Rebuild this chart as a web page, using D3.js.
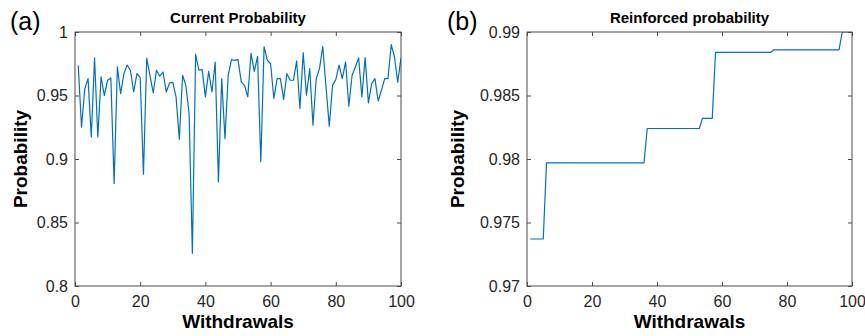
<!DOCTYPE html>
<html>
<head>
<meta charset="utf-8">
<script src="https://cdn.jsdelivr.net/npm/d3@7"></script>
<style>
  html, body { margin: 0; padding: 0; background: #fff; }
  svg { display: block; }
  text { font-family: "Liberation Sans", Arial, Helvetica, sans-serif; }
</style>
</head>
<body>
<svg id="fig" width="865" height="336"></svg>
<script>
// Withdrawal index 1..100
const withdrawals = d3.range(1, 101);

// Probability at each withdrawal
const currentProbability = [
  0.9737, 0.9250, 0.9554, 0.9633, 0.9174, 0.9797, 0.9174, 0.9646, 0.9500, 0.9620,
  0.9638, 0.8807, 0.9725, 0.9515, 0.9672, 0.9740, 0.9699, 0.9528, 0.9672, 0.9641,
  0.8881, 0.9795, 0.9659, 0.9520, 0.9699, 0.9652, 0.9685, 0.9528, 0.9599, 0.9604,
  0.9489, 0.9156, 0.9659, 0.9580, 0.9358, 0.8257, 0.9824, 0.9699, 0.9704, 0.9489,
  0.9690, 0.9528, 0.9764, 0.8820, 0.9633, 0.9161, 0.9659, 0.9782, 0.9777, 0.9782,
  0.9607, 0.9580, 0.9490, 0.9832, 0.9690, 0.9809, 0.8978, 0.9884, 0.9777, 0.9750,
  0.9476, 0.9633, 0.9633, 0.9470, 0.9672, 0.9620, 0.9620, 0.9772, 0.9397, 0.9837,
  0.9502, 0.9712, 0.9266, 0.9633, 0.9712, 0.9886, 0.9567, 0.9258, 0.9580, 0.9625,
  0.9740, 0.9633, 0.9764, 0.9415, 0.9659, 0.9725, 0.9796, 0.9489, 0.9798, 0.9442,
  0.9594, 0.9633, 0.9457, 0.9541, 0.9633, 0.9633, 0.9900, 0.9803, 0.9604, 0.9798
];

// Reinforced (best so far) probability at each withdrawal
const reinforcedProbability = [
  0.9737, 0.9737, 0.9737, 0.9737, 0.9737, 0.9797, 0.9797, 0.9797, 0.9797, 0.9797,
  0.9797, 0.9797, 0.9797, 0.9797, 0.9797, 0.9797, 0.9797, 0.9797, 0.9797, 0.9797,
  0.9797, 0.9797, 0.9797, 0.9797, 0.9797, 0.9797, 0.9797, 0.9797, 0.9797, 0.9797,
  0.9797, 0.9797, 0.9797, 0.9797, 0.9797, 0.9797, 0.9824, 0.9824, 0.9824, 0.9824,
  0.9824, 0.9824, 0.9824, 0.9824, 0.9824, 0.9824, 0.9824, 0.9824, 0.9824, 0.9824,
  0.9824, 0.9824, 0.9824, 0.9832, 0.9832, 0.9832, 0.9832, 0.9884, 0.9884, 0.9884,
  0.9884, 0.9884, 0.9884, 0.9884, 0.9884, 0.9884, 0.9884, 0.9884, 0.9884, 0.9884,
  0.9884, 0.9884, 0.9884, 0.9884, 0.9884, 0.9886, 0.9886, 0.9886, 0.9886, 0.9886,
  0.9886, 0.9886, 0.9886, 0.9886, 0.9886, 0.9886, 0.9886, 0.9886, 0.9886, 0.9886,
  0.9886, 0.9886, 0.9886, 0.9886, 0.9886, 0.9886, 0.9900, 0.9900, 0.9900, 0.9900
];

const xTicks = [0, 20, 40, 60, 80, 100];
const yTicksCurrent = [0.8, 0.85, 0.9, 0.95, 1];
const yTicksReinforced = [0.97, 0.975, 0.98, 0.985, 0.99];

const panels = [
  { tag: "(a)", title: "Current Probability", values: currentProbability,
    yDomain: [0.8, 1], yTicks: yTicksCurrent, left: 75, right: 401,
    tagX: 10, yLabelX: 27 },
  { tag: "(b)", title: "Reinforced probability", values: reinforcedProbability,
    yDomain: [0.97, 0.99], yTicks: yTicksReinforced, left: 527, right: 852,
    tagX: 447, yLabelX: 464 }
];

const plotTop = 32, plotBottom = 286;
const axisColor = "#4a4a4a";
const textColor = "#262626";
const lineColor = "#0072BD";
const tickLen = 4;

const svg = d3.select("#fig");
svg.append("rect").attr("width", 865).attr("height", 336).attr("fill", "#fff");

panels.forEach(p => {
  const x = d3.scaleLinear().domain([0, 100]).range([p.left, p.right]);
  const y = d3.scaleLinear().domain(p.yDomain).range([plotBottom, plotTop]);
  const g = svg.append("g");

  // clip the series to the axes box
  const clipId = "clip-" + p.tag.replace(/\W/g, "");
  svg.append("clipPath").attr("id", clipId)
    .append("rect").attr("x", p.left).attr("y", plotTop)
    .attr("width", p.right - p.left).attr("height", plotBottom - plotTop);

  const line = d3.line().x((d, i) => x(withdrawals[i])).y(d => y(d));
  g.append("path")
    .datum(p.values)
    .attr("clip-path", `url(#${clipId})`)
    .attr("fill", "none")
    .attr("stroke", lineColor)
    .attr("stroke-width", 1.2)
    .attr("stroke-linejoin", "round")
    .attr("d", line);

  // bottom axis with inward ticks
  const xAxis = g.append("g").attr("transform", `translate(0,${plotBottom})`)
    .call(d3.axisBottom(x).tickValues(xTicks).tickSizeInner(-tickLen).tickSizeOuter(0)
      .tickPadding(10).tickFormat(d3.format("d")));
  // top mirror ticks
  const xTop = g.append("g").attr("transform", `translate(0,${plotTop})`)
    .call(d3.axisTop(x).tickValues(xTicks).tickSizeInner(-tickLen).tickSizeOuter(0)
      .tickFormat(""));
  // left axis
  const yAxis = g.append("g").attr("transform", `translate(${p.left},0)`)
    .call(d3.axisLeft(y).tickValues(p.yTicks).tickSizeInner(-tickLen).tickSizeOuter(0)
      .tickPadding(7).tickFormat(d => String(+d.toFixed(3))));
  // right mirror ticks
  const yRight = g.append("g").attr("transform", `translate(${p.right},0)`)
    .call(d3.axisRight(y).tickValues(p.yTicks).tickSizeInner(-tickLen).tickSizeOuter(0)
      .tickFormat(""));

  [xAxis, xTop, yAxis, yRight].forEach(a => {
    a.select(".domain").remove();
    a.selectAll(".tick line").attr("stroke", axisColor).attr("stroke-width", 1);
    a.selectAll(".tick text")
      .attr("fill", textColor)
      .style("font-family", '"Liberation Sans", Arial, sans-serif')
      .style("font-size", "16px");
  });

  // axes box
  g.append("rect")
    .attr("x", p.left).attr("y", plotTop)
    .attr("width", p.right - p.left).attr("height", plotBottom - plotTop)
    .attr("fill", "none").attr("stroke", axisColor).attr("stroke-width", 1);

  // title
  g.append("text")
    .attr("x", (p.left + p.right) / 2).attr("y", 23)
    .attr("text-anchor", "middle")
    .attr("font-weight", "bold").attr("font-size", 15)
    .attr("fill", "#000")
    .text(p.title);

  // x label
  g.append("text")
    .attr("x", (p.left + p.right) / 2).attr("y", 328)
    .attr("text-anchor", "middle")
    .attr("font-weight", "bold").attr("font-size", 19)
    .attr("fill", "#000")
    .text("Withdrawals");

  // y label
  g.append("text")
    .attr("transform", `translate(${p.yLabelX},${(plotTop + plotBottom) / 2}) rotate(-90)`)
    .attr("text-anchor", "middle")
    .attr("font-weight", "bold").attr("font-size", 19)
    .attr("fill", "#000")
    .text("Probability");

  // panel tag
  g.append("text")
    .attr("x", p.tagX).attr("y", 30)
    .attr("font-size", 25)
    .attr("fill", "#000")
    .text(p.tag);
});
</script>
</body>
</html>
